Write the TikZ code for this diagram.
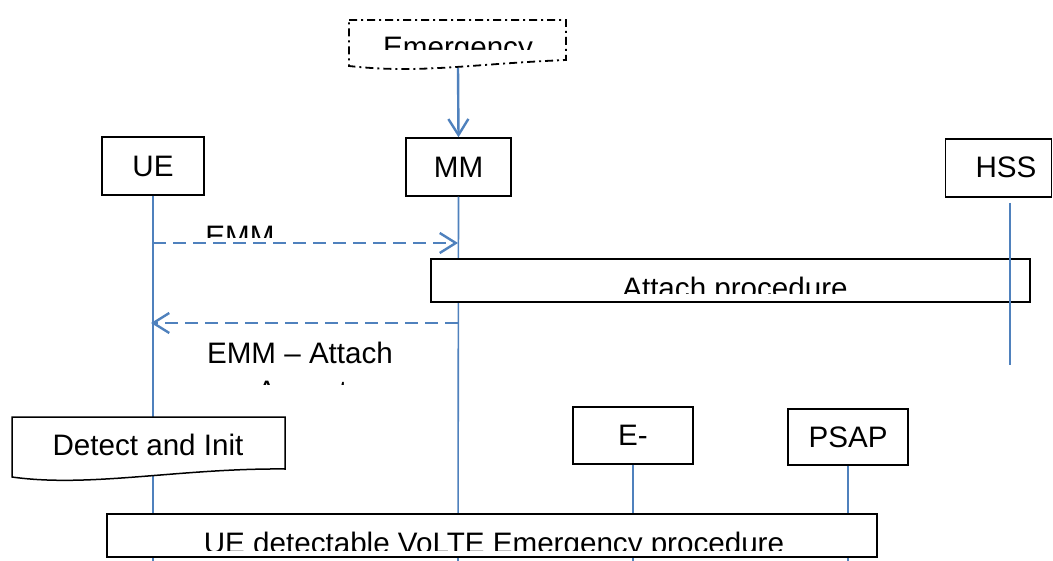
\documentclass[tikz,border=0pt]{standalone}
\usepackage{fontspec}
\setmainfont{Liberation Sans}
\usetikzlibrary{arrows.meta}
\definecolor{lineblue}{RGB}{79,129,189}
\tikzstyle{ent}=[draw=black, line width=0.75pt, fill=white, inner sep=0pt]
\tikzstyle{life}=[draw=lineblue, line width=0.8pt]
\tikzstyle{msg}=[draw=lineblue, line width=1.2pt, dash pattern=on 6.5pt off 3.5pt, -{Straight Barb[length=8pt,width=10pt]}]
\tikzstyle{sig}=[draw=lineblue, line width=1.2pt, -{Straight Barb[length=8pt,width=10pt]}]
\tikzstyle{lbl}=[inner sep=0pt, anchor=base]
\tikzstyle{docu}=[draw=black, line width=0.75pt, fill=white]
\tikzstyle{trig}=[docu, line width=0.9pt, dash pattern=on 4pt off 2pt on 1pt off 2pt]

\begin{document}
\begin{tikzpicture}[x=0.5pt, y=-0.5pt, every node/.style={font=\fontsize{14.8}{17}\selectfont}]

\useasboundingbox (0,0) rectangle (1053,561);

\node[ent, minimum width=51pt, minimum height=29pt] (ue) at (153,166) {UE};
\node[ent, minimum width=52.5pt, minimum height=29pt] (mm) at (458.5,167) {MM};
\node[ent, minimum width=53pt, minimum height=29pt] (hss) at (998.5,168) {};
\node[lbl] (hsstxt) at (1006,177) {HSS};
\node[ent, minimum width=60pt, minimum height=28.5pt] (ecscf) at (633,435.5) {E-};
\node[ent, minimum width=60pt, minimum height=28pt] (psap) at (848,437) {PSAP};

\coordinate (ueend) at (153,561);
\coordinate (mmend) at (458,561);
\coordinate (ecscfend) at (633,561);
\coordinate (psapend) at (848,561);
\coordinate (hsstop) at (1010,203);
\coordinate (hssend) at (1010,365);

\draw[life] (ue.south) -- (ueend);
\draw[life] (mm.south) -- (mmend);
\draw[life] (ecscf.south) -- (ecscfend);
\draw[life] (psap.south) -- (psapend);

\draw[trig] (349,20) -- (566,20) -- (566,60) .. controls (470,64) and (420,74) .. (349,66) -- cycle;
\begin{scope}
\clip (349,20) rectangle (566,50);
\node[lbl] (emgtxt) at (458,58) {Emergency};
\end{scope}
\coordinate (emgb) at (458,68);
\draw[sig] (emgb) -- (mm.north);

\coordinate (uereq) at (153,243);
\coordinate (mmreq) at (458,243);
\draw[msg] (uereq) -- (mmreq);
\begin{scope}
\clip (180,215) rectangle (300,237);
\node[lbl] (reqtxt) at (240,246) {EMM};
\end{scope}

\node[ent, minimum width=299.5pt, minimum height=21.5pt] (attach) at (730.5,280.5) {};
\begin{scope}
\clip (attach.north west) rectangle (1030,293);
\node[lbl] (attachtxt) at (735,298) {Attach procedure};
\end{scope}
\draw[life] (hsstop) -- (hssend);

\coordinate (mmacc) at (458,323);
\coordinate (ueacc) at (151,323);
\draw[msg] (mmacc) -- (ueacc);
\node[lbl] (acctxt) at (300,363) {EMM -- Attach};
\begin{scope}
\clip (200,370) rectangle (400,384);
\node[lbl] (acctxtb) at (302,401) {Accept};
\end{scope}

\draw[docu] (12,417) -- (285,417) -- (285,469) .. controls (180,468) and (90,488) .. (12,477) -- cycle;
\node[lbl] (detect) at (148,455) {Detect and Init};

\node[ent, minimum width=385pt, minimum height=21.5pt] (volte) at (492,535.5) {};
\begin{scope}
\clip (volte.north west) rectangle (877,550);
\node[lbl] (voltetxt) at (494,553) {UE detectable VoLTE Emergency procedure};
\end{scope}

\end{tikzpicture}
\end{document}
